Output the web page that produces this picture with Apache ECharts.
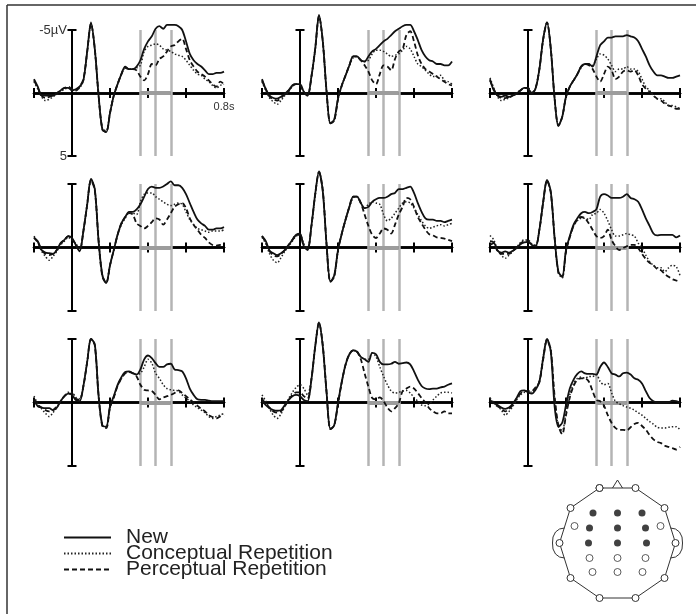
<!DOCTYPE html>
<html>
<head>
<meta charset="utf-8">
<title>ERP waveforms</title>
<script src="https://cdn.jsdelivr.net/npm/echarts@6/dist/echarts.min.js"></script>
<style>
  html, body { margin: 0; padding: 0; background: #fff; }
  #chart { width: 696px; height: 614px; }
</style>
</head>
<body>
<div id="chart"></div>
<script>
// time base (s) and axis ranges
const times = [-0.2, -0.18, -0.16, -0.14, -0.12, -0.1, -0.08, -0.06, -0.04, -0.02,
  0, 0.02, 0.04, 0.06, 0.08, 0.1, 0.12, 0.14, 0.16, 0.18,
  0.2, 0.22, 0.24, 0.26, 0.28, 0.3, 0.32, 0.34, 0.36, 0.38,
  0.4, 0.42, 0.44, 0.46, 0.48, 0.5, 0.52, 0.54, 0.56, 0.58,
  0.6, 0.62, 0.64, 0.66, 0.68, 0.7, 0.72, 0.74, 0.76, 0.78, 0.8]
const timeRange = [-0.2, 0.8]
const timeTickStep = 0.2
const voltRange = [-5, 5]          // negative up
const analysisWindow = [0.36, 0.44, 0.52]
const conditions = ['New', 'Conceptual Repetition', 'Perceptual Repetition']

// amplitudes in µV, one array per condition and site
const newF3 = [-1.1, -0.5, 0.2, 0.2, 0.2, 0.2, 0.05, -0.2, -0.4, -0.4,
  -0.2, -0.3, -0.5, -1.0, -3.3, -5.6, -3.5, 0.2, 2.9, 3.1,
  1.6, 0.2, -0.7, -1.5, -2.1, -1.9, -1.9, -2.1, -2.6, -3.5,
  -4.1, -4.5, -5.1, -5.3, -5.1, -5.4, -5.4, -5.4, -5.3, -5.0,
  -4.1, -3.1, -2.6, -2.3, -2.1, -1.8, -1.5, -1.5, -1.6, -1.6, -1.7]
const concF3 = [-0.9, -0.3, 0.3, 0.6, 0.5, 0.3, 0.1, -0.1, -0.3, -0.4,
  -0.3, -0.2, -0.4, -1.0, -3.2, -5.5, -3.4, 0.3, 2.8, 3.0,
  1.5, 0.2, -0.7, -1.5, -2.0, -1.9, -1.9, -2.0, -2.2, -3.3,
  -3.7, -3.8, -3.9, -3.8, -3.5, -3.4, -3.3, -3.1, -3.0, -2.9,
  -2.6, -2.2, -1.8, -1.5, -1.4, -1.1, -0.9, -0.6, -0.4, -0.6, -0.7]
const percF3 = [-1.0, -0.4, 0.2, 0.4, 0.3, 0.2, 0.0, -0.2, -0.4, -0.5,
  -0.3, -0.2, -0.5, -1.1, -3.3, -5.5, -3.5, 0.2, 2.9, 3.1,
  1.6, 0.2, -0.7, -1.5, -2.0, -1.9, -1.9, -1.8, -1.3, -1.0,
  -1.5, -2.3, -2.2, -2.7, -2.9, -3.3, -3.7, -3.8, -4.1, -4.3,
  -3.5, -2.6, -2.1, -1.7, -1.5, -1.3, -1.0, -0.7, -0.5, -0.9, -0.7]

const newFz = [-1.1, -0.3, 0.2, 0.4, 0.45, 0.3, 0.05, -0.2, -0.6, -0.7,
  -0.7, -0.1, 0.2, -1.3, -3.5, -6.2, -4.1, -0.1, 2.4, 2.1,
  0.45, -0.6, -1.4, -2.2, -2.9, -2.9, -2.6, -2.5, -2.9, -3.3,
  -3.5, -3.8, -4.1, -4.3, -4.6, -4.9, -5.1, -5.3, -5.4, -5.4,
  -4.9, -4.2, -3.4, -2.9, -2.6, -2.5, -2.3, -2.3, -2.2, -2.2, -2.5]
const concFz = [-0.9, -0.2, 0.4, 0.7, 0.9, 0.6, 0.2, -0.1, -0.5, -0.7,
  -0.6, -0.1, 0.1, -1.2, -3.4, -6.1, -4.0, 0.0, 2.4, 2.2,
  0.5, -0.6, -1.4, -2.2, -2.8, -2.9, -2.6, -2.5, -2.6, -3.1,
  -3.4, -3.4, -3.3, -3.1, -2.9, -3.0, -3.1, -3.4, -3.7, -3.5,
  -2.9, -2.3, -2.1, -1.8, -1.5, -1.3, -1.3, -1.4, -1.0, -0.9, -0.7]
const percFz = [-1.0, -0.3, 0.3, 0.5, 0.6, 0.4, 0.1, -0.2, -0.6, -0.7,
  -0.6, -0.1, 0.2, -1.3, -3.5, -6.1, -4.1, -0.1, 2.4, 2.2,
  0.5, -0.6, -1.4, -2.2, -2.9, -2.9, -2.6, -2.2, -1.7, -1.0,
  -0.7, -1.5, -2.2, -2.1, -1.8, -2.7, -3.3, -3.5, -4.6, -4.9,
  -4.1, -3.0, -2.3, -1.9, -1.7, -1.5, -1.3, -1.1, -0.9, -0.7, -0.6]

const newF4 = [-1.1, -0.2, 0.2, 0.3, 0.2, 0.3, 0.2, 0.05, -0.2, -0.4,
  -0.35, 0.05, -0.35, -1.9, -4.3, -5.6, -3.5, 0.45, 2.6, 1.9,
  0.3, -0.5, -1.0, -1.5, -2.1, -2.3, -2.3, -2.1, -2.9, -3.8,
  -4.1, -4.4, -4.4, -4.5, -4.5, -4.5, -4.6, -4.5, -4.4, -4.1,
  -3.5, -2.9, -2.2, -1.7, -1.4, -1.4, -1.3, -1.2, -1.2, -1.3, -1.4]
const concF4 = [-1.2, -0.4, 0.3, 0.6, 0.5, 0.4, 0.2, 0.0, -0.2, -0.4,
  -0.4, 0.0, -0.4, -1.9, -4.2, -5.6, -3.5, 0.4, 2.6, 1.9,
  0.3, -0.5, -1.0, -1.5, -2.0, -2.3, -2.3, -2.2, -2.7, -3.1,
  -3.0, -2.7, -2.2, -1.7, -1.9, -1.9, -2.1, -1.9, -1.9, -1.7,
  -1.1, -0.5, -0.2, 0.2, 0.45, 0.45, 0.7, 1.0, 1.0, 1.1, 1.25]
const percF4 = [-1.0, -0.3, 0.2, 0.4, 0.4, 0.3, 0.2, 0.0, -0.2, -0.4,
  -0.4, 0.0, -0.4, -1.9, -4.3, -5.6, -3.5, 0.4, 2.6, 1.9,
  0.3, -0.5, -1.0, -1.5, -2.1, -2.3, -2.2, -1.9, -1.3, -0.9,
  -1.5, -2.1, -1.8, -1.1, -1.3, -1.7, -1.8, -1.7, -1.8, -1.4,
  -0.7, -0.35, -0.1, 0.2, 0.45, 0.6, 0.85, 1.0, 1.1, 1.25, 1.25]

const newFC3 = [-0.75, -0.5, 0.2, 0.4, 0.45, 0.5, 0.2, -0.35, -0.6, -0.9,
  -0.75, -0.2, 0.3, -1.3, -3.4, -5.4, -4.6, -0.5, 2.2, 2.8,
  1.4, 0.2, -1.0, -1.9, -2.4, -2.8, -2.8, -3.0, -3.4, -4.0,
  -4.6, -4.8, -4.7, -4.7, -4.8, -5.0, -5.2, -4.9, -4.9, -4.7,
  -4.2, -3.5, -2.8, -2.2, -1.9, -1.7, -1.4, -1.4, -1.5, -1.5, -1.6]
const concFC3 = [-0.9, -0.4, 0.3, 0.7, 1.0, 0.7, 0.3, -0.2, -0.5, -0.8,
  -0.6, -0.3, 0.1, -1.3, -3.3, -5.3, -4.6, -0.6, 2.2, 2.8,
  1.4, 0.2, -1.0, -1.8, -2.3, -2.7, -2.7, -2.6, -3.6, -4.2,
  -4.3, -4.3, -4.0, -3.8, -3.6, -3.4, -3.3, -3.4, -3.5, -3.4,
  -2.8, -2.2, -1.8, -1.5, -1.4, -1.3, -1.2, -1.3, -1.3, -1.3, -1.4]
const percFC3 = [-0.8, -0.4, 0.2, 0.5, 0.6, 0.5, 0.2, -0.3, -0.6, -0.9,
  -0.7, -0.2, 0.2, -1.3, -3.4, -5.3, -4.5, -0.5, 2.3, 2.8,
  1.4, 0.2, -1.0, -1.9, -2.4, -2.7, -2.6, -1.9, -1.7, -1.5,
  -1.7, -2.0, -2.3, -2.2, -1.8, -2.2, -2.7, -3.2, -3.4, -3.5,
  -3.1, -2.3, -1.8, -1.4, -1.0, -0.75, -0.4, -0.2, -0.15, -0.2, -0.25]

const newFCz = [-0.9, -0.5, 0.25, 0.45, 0.6, 0.45, 0.2, -0.2, -0.6, -1.0,
  -1.1, -0.1, 0.2, -1.7, -4.2, -6.0, -4.4, -0.2, 2.7, 2.2,
  0.2, -1.1, -2.2, -3.2, -4.0, -4.0, -3.5, -3.1, -3.2, -3.6,
  -3.8, -3.9, -3.9, -4.0, -4.2, -4.3, -4.6, -4.6, -4.7, -4.8,
  -4.3, -3.5, -2.8, -2.3, -2.2, -2.2, -2.1, -2.1, -2.0, -2.1, -2.2]
const concFCz = [-0.8, -0.3, 0.5, 1.0, 1.2, 0.8, 0.3, -0.1, -0.5, -0.9,
  -1.0, -0.3, 0.0, -1.6, -4.1, -6.0, -4.5, -0.3, 2.6, 2.3,
  0.2, -1.1, -2.2, -3.2, -3.9, -4.0, -3.5, -3.1, -3.4, -3.6,
  -3.5, -3.4, -2.6, -2.1, -2.3, -2.7, -3.1, -3.5, -3.6, -3.5,
  -3.1, -2.6, -2.1, -1.7, -1.5, -1.6, -1.7, -1.8, -1.7, -1.8, -1.9]
const percFCz = [-0.9, -0.4, 0.3, 0.6, 0.7, 0.5, 0.2, -0.2, -0.6, -1.0,
  -1.0, -0.1, 0.1, -1.7, -4.2, -5.9, -4.5, -0.2, 2.7, 2.3,
  0.2, -1.1, -2.2, -3.2, -4.0, -4.0, -3.5, -2.6, -1.7, -1.0,
  -0.75, -1.1, -1.5, -1.4, -1.1, -1.8, -2.6, -3.2, -3.9, -3.8,
  -3.2, -2.4, -1.9, -1.4, -1.05, -0.95, -0.8, -0.75, -0.7, -0.6, -0.5]

const newFC4 = [-0.2, -0.35, 0.25, 0.4, 0.3, 0.4, 0.25, 0.05, -0.25, -0.4,
  -0.45, -0.2, -0.1, -1.4, -3.6, -5.3, -4.4, -0.75, 1.9, 2.3,
  0.2, -0.9, -1.8, -2.3, -2.7, -2.8, -2.7, -2.8, -3.0, -4.0,
  -4.2, -4.1, -3.9, -3.9, -3.9, -4.0, -4.2, -3.9, -3.8, -3.6,
  -3.0, -2.3, -1.7, -1.1, -0.95, -1.0, -1.0, -1.0, -1.0, -0.8, -0.95]
const concFC4 = [-0.95, -0.6, 0.2, 0.6, 0.85, 0.6, 0.3, 0.0, -0.4, -0.6,
  -0.6, -0.3, -0.2, -1.4, -3.5, -5.3, -4.3, -0.8, 2.0, 2.4,
  0.3, -0.8, -1.7, -2.1, -2.3, -2.3, -2.2, -2.6, -2.7, -3.0,
  -2.7, -2.1, -1.4, -0.9, -0.9, -1.0, -1.1, -1.0, -0.9, -0.35,
  0.05, 0.6, 1.1, 1.4, 1.6, 1.6, 1.9, 1.6, 1.4, 1.5, 2.2]
const percFC4 = [-0.5, -0.4, 0.3, 0.5, 0.5, 0.5, 0.3, 0.0, -0.3, -0.5,
  -0.5, -0.2, -0.1, -1.4, -3.6, -5.3, -4.3, -0.8, 2.0, 2.3,
  0.3, -0.8, -1.7, -2.2, -2.4, -2.3, -1.9, -1.4, -0.9, -0.75,
  -0.9, -1.4, -0.6, -0.1, 0.2, 0.05, -0.1, -0.2, -0.2, 0.05,
  0.5, 0.9, 1.2, 1.4, 1.7, 1.8, 2.1, 2.3, 2.5, 2.6, 2.7]

const newC3 = [-0.2, 0.3, 0.4, 0.45, 0.45, 0.6, 0.4, -0.1, -0.5, -0.7,
  -0.6, -0.2, -0.1, -1.3, -3.2, -5.0, -4.6, -0.5, 1.8, 1.9,
  0.3, -0.5, -1.4, -2.0, -2.4, -2.45, -2.3, -2.2, -2.6, -3.4,
  -3.7, -3.5, -3.1, -2.8, -2.8, -3.0, -3.05, -2.6, -2.55, -2.45,
  -1.9, -1.1, -0.6, -0.25, -0.2, -0.2, -0.15, -0.1, -0.1, -0.1, -0.1]
const concC3 = [-0.5, 0.1, 0.5, 0.85, 1.1, 0.8, 0.4, -0.1, -0.5, -0.8,
  -0.8, -0.4, -0.3, -1.3, -3.2, -5.0, -4.5, -0.6, 1.8, 2.0,
  0.4, -0.4, -1.3, -1.9, -2.3, -2.4, -2.3, -2.2, -2.3, -2.8,
  -3.4, -3.1, -2.3, -1.9, -1.4, -1.1, -1.0, -0.95, -0.9, -0.6,
  -0.35, -0.1, 0.2, 0.4, 0.6, 0.8, 1.1, 1.25, 1.1, 1.0, 0.85]
const percC3 = [-0.3, 0.2, 0.4, 0.6, 0.7, 0.6, 0.3, -0.1, -0.5, -0.7,
  -0.7, -0.3, -0.2, -1.3, -3.2, -5.0, -4.5, -0.5, 1.9, 2.0,
  0.4, -0.4, -1.3, -1.9, -2.3, -2.4, -2.3, -2.05, -1.4, -1.0,
  -0.95, -0.9, -0.6, -0.25, -0.4, -0.5, -0.6, -0.75, -0.95, -0.75,
  -0.5, -0.25, 0.0, 0.25, 0.5, 0.7, 1.0, 1.15, 1.25, 1.1, 1.0]

const newCz = [-0.1, 0.2, 0.45, 0.6, 0.65, 0.6, 0.2, -0.2, -0.5, -0.6,
  -0.5, -0.2, -0.1, -1.8, -4.4, -6.3, -4.4, -0.75, 2.1, 1.8,
  0.05, -1.65, -3.0, -3.8, -4.1, -4.0, -3.6, -3.4, -3.2, -3.9,
  -3.8, -3.2, -3.0, -3.0, -3.05, -3.2, -3.05, -3.1, -3.15, -3.0,
  -2.45, -1.8, -1.3, -1.1, -1.05, -1.1, -1.1, -1.2, -1.25, -1.4, -1.5]
const concCz = [-0.6, -0.1, 0.5, 1.0, 1.25, 0.9, 0.3, -0.3, -0.8, -1.2,
  -1.4, -1.1, -0.6, -1.9, -4.4, -6.3, -4.5, -0.8, 2.0, 1.8,
  0.1, -1.6, -3.0, -3.8, -4.1, -4.0, -3.6, -3.4, -3.4, -3.9,
  -3.6, -2.8, -2.05, -1.4, -0.9, -0.75, -0.8, -0.9, -0.95, -0.75,
  -0.4, -0.1, 0.2, 0.25, 0.1, -0.2, -0.5, -0.75, -0.8, -0.8, -0.75]
const percCz = [-0.3, 0.1, 0.4, 0.7, 0.8, 0.7, 0.3, -0.2, -0.6, -0.8,
  -0.8, -0.5, -0.3, -1.8, -4.4, -6.3, -4.5, -0.8, 2.1, 1.8,
  0.1, -1.6, -3.0, -3.8, -4.1, -4.0, -3.4, -2.3, -1.25, -0.35,
  -0.25, -0.4, -0.1, 0.4, 0.7, 0.45, 0.05, -0.9, -1.1, -1.25,
  -1.1, -0.75, -0.35, 0.0, 0.45, 0.7, 0.85, 0.85, 0.7, 0.85, 0.85]

const newC4 = [-0.1, 0.05, 0.2, 0.4, 0.5, 0.4, 0.1, -0.35, -0.9, -0.95,
  -0.8, -0.7, -1.0, -1.65, -3.5, -5.0, -4.0, 0.3, 1.9, 1.6,
  0.2, -1.1, -1.8, -2.25, -2.45, -2.3, -2.25, -2.25, -2.2, -2.8,
  -3.15, -2.8, -2.3, -2.2, -2.05, -2.3, -2.35, -2.2, -1.9, -1.8,
  -1.5, -0.9, -0.35, -0.1, 0.0, 0.0, 0.0, 0.0, -0.15, -0.1, 0.0]
const concC4 = [-0.35, 0.0, 0.3, 0.6, 1.0, 0.7, 0.3, -0.2, -0.6, -0.8,
  -0.9, -0.8, -1.1, -1.7, -3.6, -5.0, -4.2, -0.3, 1.9, 2.2,
  0.8, -0.6, -1.5, -1.9, -2.0, -1.9, -2.05, -2.05, -2.2, -1.65,
  -1.4, -1.5, -0.75, -0.1, 0.1, 0.25, 0.35, 0.45, 0.6, 0.8,
  1.0, 1.25, 1.5, 1.7, 1.95, 2.0, 2.0, 1.95, 1.9, 1.9, 2.15]
const percC4 = [-0.2, 0.1, 0.3, 0.5, 0.7, 0.5, 0.2, -0.3, -0.7, -0.9,
  -0.9, -0.9, -1.2, -1.6, -3.4, -4.9, -4.1, -0.5, 1.8, 2.5,
  1.0, -0.4, -1.3, -1.8, -1.9, -1.9, -1.65, -0.9, -0.2, -0.1,
  0.25, 1.0, 1.6, 2.0, 2.15, 2.15, 2.2, 1.95, 1.7, 1.6,
  1.85, 2.15, 2.55, 2.9, 3.1, 3.2, 3.4, 3.5, 3.6, 3.7, 3.5]

// electrode montage (head map units, y up)
const headOutline = [[-18, 55], [18, 55], [47, 35], [58, 0], [47, -35], [18, -55],
  [-18, -55], [-47, -35], [-58, 0], [-47, 35], [-18, 55]]
const nose = [[-5, 55], [0, 63], [5, 55]]
const earLeft = [[-53, 15], [-58, 14], [-62, 11], [-64.5, 6], [-65, 0], [-64.5, -6], [-62, -11], [-58, -14], [-53, -15]]
const earRight = [[53, 15], [58, 14], [62, 11], [64.5, 6], [65, 0], [64.5, -6], [62, -11], [58, -14], [53, -15]]
const sitesShown = [[-24.5, 30], [0, 30], [24.5, 30], [-28, 15], [0, 15], [28, 15], [-29, 0], [0, 0], [29, 0]]
const sitesOther = [[-43, 17], [43, 17], [-28, -15], [0, -15], [28, -15], [-25, -29], [0, -29], [25, -29]]

const panels = [
  [newF3, concF3, percF3], [newFz, concFz, percFz], [newF4, concF4, percF4],
  [newFC3, concFC3, percFC3], [newFCz, concFCz, percFCz], [newFC4, concFC4, percFC4],
  [newC3, concC3, percC3], [newCz, concCz, percCz], [newC4, concC4, percC4]
]

// layout
const colLeft = [34, 262, 490]
const rowTop = [30, 184, 339]
const rowHeight = [126, 127, 127]
const panelWidth = 190
const font = 'Liberation Sans'
const lineStyles = [
  { color: '#111', width: 1.8, type: 'solid' },
  { color: '#222', width: 1.5, type: [1.5, 2] },
  { color: '#111', width: 1.8, type: [5, 3] }
]

const chart = echarts.init(document.getElementById('chart'))
const grids = []
const xAxes = []
const yAxes = []
const series = []

panels.forEach((traces, p) => {
  const col = p % 3
  const row = Math.floor(p / 3)
  grids.push({ left: colLeft[col], top: rowTop[row], width: panelWidth, height: rowHeight[row], outerBoundsMode: 'none', containLabel: false })

  // two x axes (ticks down / up) and two y axes (caps left / right) crossing at zero
  ;['bottom', 'top'].forEach((pos, k) => {
    xAxes.push({
      gridIndex: p,
      type: 'value',
      position: pos,
      min: timeRange[0],
      max: timeRange[1],
      interval: timeTickStep,
      axisLine: { onZero: true, onZeroAxisIndex: 2 * p + k, lineStyle: { color: '#000', width: 2.5 } },
      axisTick: { show: true, length: 5, lineStyle: { color: '#000', width: 2 } },
      axisLabel: { show: false },
      splitLine: { show: false }
    })
  })
  ;['left', 'right'].forEach((pos, k) => {
    yAxes.push({
      gridIndex: p,
      type: 'value',
      position: pos,
      inverse: true,
      min: voltRange[0],
      max: voltRange[1],
      interval: voltRange[1] - voltRange[0],
      axisLine: { onZero: true, onZeroAxisIndex: 2 * p + k, lineStyle: { color: '#000', width: 2 } },
      axisTick: { show: true, length: 4.5, lineStyle: { color: '#000', width: 2 } },
      axisLabel: { show: false },
      splitLine: { show: false }
    })
  })

  // analysis window markers
  series.push({
    type: 'line',
    name: 'window',
    xAxisIndex: 2 * p,
    yAxisIndex: 2 * p,
    data: [],
    z: 1,
    markLine: {
      silent: true,
      z: 1,
      symbol: ['none', 'none'],
      label: { show: false },
      animation: false,
      lineStyle: { color: '#b4b4b4', width: 2.5, type: 'solid' },
      data: analysisWindow.map(t => ({ xAxis: t })).concat([[
        { coord: [analysisWindow[0], 0], lineStyle: { color: '#9c9c9c', width: 4 } },
        { coord: [analysisWindow[analysisWindow.length - 1], 0] }
      ]])
    }
  })

  // waveforms: perceptual, conceptual, then new on top
  ;[2, 1, 0].forEach(c => {
    series.push({
      type: 'line',
      name: conditions[c],
      xAxisIndex: 2 * p,
      yAxisIndex: 2 * p,
      data: times.map((t, i) => [t, traces[c][i]]),
      symbol: 'none',
      smooth: 0.3,
      clip: false,
      z: 3,
      lineStyle: lineStyles[c],
      itemStyle: { color: lineStyles[c].color }
    })
  })
})

// label-only axes for the first panel, shifted onto the zero lines
xAxes.push({
  gridIndex: 0,
  type: 'value',
  position: 'bottom',
  offset: -rowHeight[0] / 2,
  min: timeRange[0],
  max: timeRange[1],
  interval: timeTickStep,
  axisLine: { show: false, onZero: false },
  axisTick: { show: false },
  axisLabel: {
    showMaxLabel: true,
    margin: 8,
    fontFamily: font,
    fontSize: 11,
    color: '#333',
    formatter: v => (Math.abs(v - timeRange[1]) < 1e-6 ? timeRange[1] + 's' : '')
  },
  splitLine: { show: false }
})
yAxes.push({
  gridIndex: 0,
  type: 'value',
  position: 'left',
  offset: -(panelWidth * (0 - timeRange[0]) / (timeRange[1] - timeRange[0])),
  inverse: true,
  min: voltRange[0],
  max: voltRange[1],
  interval: voltRange[1] - voltRange[0],
  axisLine: { show: false, onZero: false },
  axisTick: { show: false },
  axisLabel: {
    margin: 5,
    fontFamily: font,
    fontSize: 13,
    color: '#333',
    formatter: v => (v < 0 ? v + 'µV' : String(v))
  },
  splitLine: { show: false }
})

// electrode head map
const hg = panels.length
grids.push({ left: 545, top: 478, width: 145, height: 130, outerBoundsMode: 'none', containLabel: false })
xAxes.push({ gridIndex: hg, type: 'value', min: -72.5, max: 72.5, show: false })
yAxes.push({ gridIndex: hg, type: 'value', min: -65, max: 65, show: false })
const headAxes = { xAxisIndex: xAxes.length - 1, yAxisIndex: yAxes.length - 1 }
;[earLeft, earRight, nose].forEach(shape => {
  series.push(Object.assign({
    type: 'line', name: 'head', data: shape, symbol: 'none', z: 2,
    lineStyle: { color: '#333', width: 1 }
  }, headAxes))
})
series.push(Object.assign({
  type: 'line', name: 'head', data: headOutline, symbol: 'circle', symbolSize: 7, showSymbol: true, z: 3,
  lineStyle: { color: '#333', width: 1 },
  itemStyle: { color: '#fff', borderColor: '#333', borderWidth: 1 }
}, headAxes))
series.push(Object.assign({
  type: 'scatter', name: 'head', data: sitesOther, symbol: 'circle', symbolSize: 7, z: 3,
  itemStyle: { color: '#fff', borderColor: '#333', borderWidth: 1 }
}, headAxes))
series.push(Object.assign({
  type: 'scatter', name: 'head', data: sitesShown, symbol: 'circle', symbolSize: 7, z: 3,
  itemStyle: { color: '#111' }
}, headAxes))

const option = {
  backgroundColor: '#fff',
  animation: false,
  grid: grids,
  xAxis: xAxes,
  yAxis: yAxes,
  legend: {
    data: conditions,
    orient: 'vertical',
    left: 63,
    top: 527,
    padding: 0,
    itemWidth: 47,
    itemHeight: 14,
    itemGap: -5,
    selectedMode: false,
    itemStyle: { opacity: 0 },
    textStyle: { fontFamily: font, fontSize: 21, color: '#222', padding: [0, 0, 0, 10] }
  },
  graphic: [
    { type: 'line', shape: { x1: 7, y1: 5, x2: 696, y2: 5 }, style: { stroke: '#333', lineWidth: 1.5 } },
    { type: 'line', shape: { x1: 7, y1: 5, x2: 7, y2: 614 }, style: { stroke: '#333', lineWidth: 1.5 } }
  ],
  series: series
}
chart.setOption(option)
window.addEventListener('resize', function() {
  chart.resize()
})
</script>
</body>
</html>
